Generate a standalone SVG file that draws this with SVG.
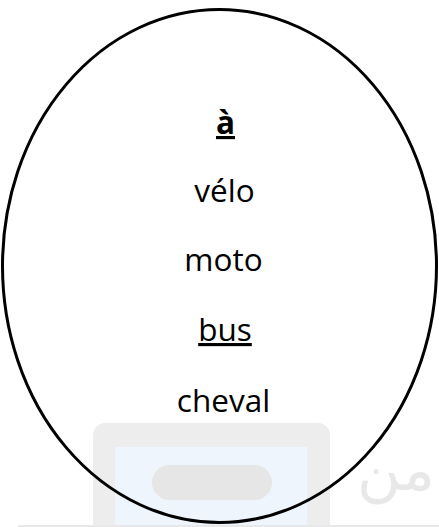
<svg xmlns="http://www.w3.org/2000/svg" width="439" height="527" viewBox="0 0 439 527">
<style>
.t{font-family:"Open Sans","Liberation Sans",sans-serif;font-size:31.5px;fill:#000;text-anchor:middle}
.u{text-decoration:underline}
</style>
<rect width="439" height="527" fill="#fff"/>
<g id="watermark">
<rect x="93" y="423" width="237" height="120" rx="12" fill="#ededed"/>
<rect x="115" y="447" width="192" height="90" fill="#eef5fc"/>
<rect x="152" y="465" width="120" height="35" rx="17.5" fill="#e6e6e6"/>
<rect x="18" y="525" width="421" height="2" fill="#e8e8e8"/>
<text x="396" y="490" font-family="DejaVu Sans, sans-serif" font-size="60" fill="#e8e8e8" text-anchor="middle">من</text>
</g>
<g id="ellipse-node">
<ellipse cx="219.5" cy="266" rx="217" ry="256.5" fill="none" stroke="#000" stroke-width="3"/>
<text class="t u" x="225.5" y="134" font-weight="bold">à</text>
<text class="t" x="224.5" y="202">vélo</text>
<text class="t" x="223.5" y="271">moto</text>
<text class="t u" x="225" y="341">bus</text>
<text class="t" x="223.5" y="412">cheval</text>
</g>
</svg>
